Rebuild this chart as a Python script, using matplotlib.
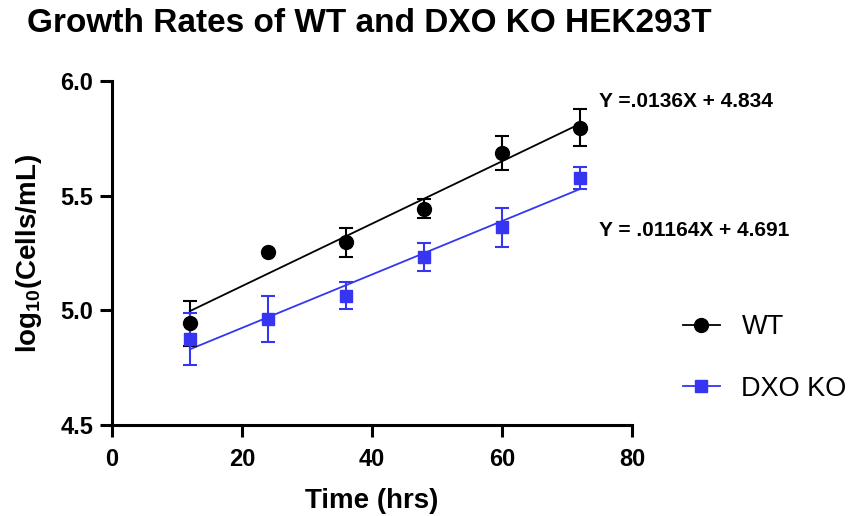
import numpy as np
import matplotlib.pyplot as plt
from matplotlib.lines import Line2D

plt.rcParams["font.family"] = ["Liberation Sans", "DejaVu Sans"]
plt.rcParams["mathtext.fontset"] = "custom"
plt.rcParams["mathtext.rm"] = "Liberation Sans"
plt.rcParams["mathtext.bf"] = "Liberation Sans:bold"

hours = [12, 24, 36, 48, 60, 72]
wt_mean = [4.944, 5.253, 5.297, 5.444, 5.687, 5.796]
wt_err = [0.099, 0.0, 0.062, 0.040, 0.073, 0.080]
ko_mean = [4.874, 4.962, 5.064, 5.233, 5.362, 5.578]
ko_err = [0.113, 0.099, 0.058, 0.061, 0.085, 0.048]

# fitted lines as printed on the chart
wt_fit = (0.0136, 4.834)
ko_fit = (0.01164, 4.691)
wt_eq = "Y =.0136X + 4.834"
ko_eq = "Y = .01164X + 4.691"

BLUE = "#3535f2"

fig = plt.figure(figsize=(8.54, 5.16), dpi=100)
ax = fig.add_axes([0.131, 0.176, 0.609, 0.667])

xs = np.array([hours[0], hours[-1]])
ax.plot(xs, wt_fit[0] * xs + wt_fit[1], color="black", lw=1.3)
ax.plot(xs, ko_fit[0] * xs + ko_fit[1], color=BLUE, lw=1.3)

ax.errorbar(hours, wt_mean, yerr=wt_err, fmt="o", color="black", ms=10,
            capsize=5, elinewidth=1.5, capthick=1.5, zorder=3)
ax.errorbar(hours, ko_mean, yerr=ko_err, fmt="s", color=BLUE, ms=9,
            capsize=5, elinewidth=1.5, capthick=1.5, zorder=3)

ax.set_xlim(0, 80)
ax.set_ylim(4.5, 6.0)
ax.set_xticks([0, 20, 40, 60, 80])
ax.set_yticks([4.5, 5.0, 5.5, 6.0])
ax.set_yticklabels(["4.5", "5.0", "5.5", "6.0"])
for s in ["top", "right"]:
    ax.spines[s].set_visible(False)
for s in ["left", "bottom"]:
    ax.spines[s].set_linewidth(2.2)
ax.tick_params(width=2.2, length=8.5, labelsize=17, pad=5)
ax.tick_params(axis="x", pad=8)
for lab in ax.get_xticklabels() + ax.get_yticklabels():
    lab.set_fontweight("bold")

ax.set_xlabel("Time (hrs)", fontsize=20, fontweight="bold", labelpad=12)
ax.set_ylabel(r"$\mathbf{log_{10}}$(Cells/mL)", fontsize=20, fontweight="bold",
              labelpad=12)

fig.text(0.032, 0.985, "Growth Rates of WT and DXO KO HEK293T", fontsize=24,
         fontweight="bold", va="top", ha="left")

fig.text(0.701, 0.804, wt_eq, fontsize=15, fontweight="bold", va="center")
fig.text(0.701, 0.554, ko_eq, fontsize=15, fontweight="bold", va="center")

handles = [
    Line2D([], [], color="black", marker="o", ms=10, lw=1.3),
    Line2D([], [], color=BLUE, marker="s", ms=9, lw=1.3),
]
fig.legend(handles, ["WT", "DXO KO"], loc="center left",
           bbox_to_anchor=(0.80, 0.306), frameon=False, fontsize=19.5,
           handlelength=1.35, labelspacing=1.3, handletextpad=0.8,
           borderpad=0, borderaxespad=0)

fig.savefig("out.png", dpi=100)
